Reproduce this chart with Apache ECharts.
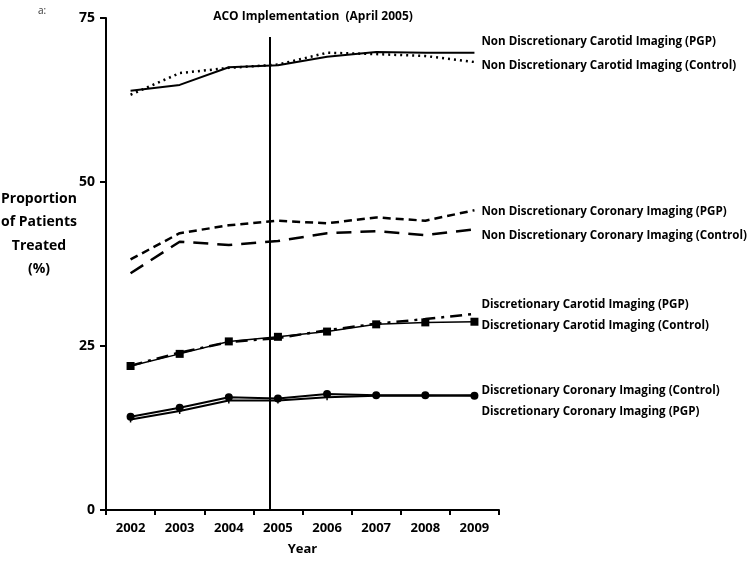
<!DOCTYPE html>
<html>
<head>
<meta charset="utf-8">
<script src="https://cdn.jsdelivr.net/npm/echarts@6/dist/echarts.min.js"></script>
<style>html,body{margin:0;padding:0;background:#fff}#c{width:750px;height:562px}</style>
</head>
<body>
<div id="c"></div>
<script>
const years = ['2002','2003','2004','2005','2006','2007','2008','2009'];
const ndCarotidPGP      = [63.9, 64.8, 67.5, 67.8, 69.1, 69.8, 69.7, 69.7];
const ndCarotidControl  = [63.3, 66.6, 67.4, 67.9, 69.7, 69.5, 69.2, 68.3];
const ndCoronaryPGP     = [38.2, 42.2, 43.4, 44.1, 43.7, 44.6, 44.1, 45.7];
const ndCoronaryControl = [36.1, 40.9, 40.4, 41.0, 42.2, 42.5, 41.9, 42.8];
const dCarotidPGP       = [22.0, 24.0, 25.6, 26.2, 27.4, 28.4, 29.1, 29.9];
const dCarotidControl   = [21.95, 23.8, 25.7, 26.4, 27.2, 28.3, 28.6, 28.7];
const dCoronaryControl  = [14.2, 15.6, 17.2, 17.0, 17.7, 17.5, 17.5, 17.4];
const dCoronaryPGP      = [13.8, 15.1, 16.7, 16.7, 17.2, 17.4, 17.4, 17.5];
const yTicks = [0, 25, 50, 75];
const acoIndex = 2.84;   // ACO implementation (April 2005) on category index scale
const acoTop = 72.1;

const FONT = '"Open Sans"';
function endLbl(dy) {
  return {show: true, formatter: '{a}', distance: 7, offset: [0, dy],
    fontFamily: FONT, fontWeight: 'bold', fontSize: 11.6, color: '#000'};
}
function line(name, data, lineStyle, extra, dy) {
  return Object.assign({
    name, type: 'line', data, xAxisIndex: 0, yAxisIndex: 0,
    symbol: 'none', lineStyle: Object.assign({color: '#000'}, lineStyle),
    itemStyle: {color: '#000'}, endLabel: endLbl(dy), z: 3
  }, extra || {});
}

const chart = echarts.init(document.getElementById('c'));
chart.setOption({
  animation: false,
  backgroundColor: '#fff',
  title: {
    text: 'ACO Implementation  (April 2005)',
    left: 308, top: 6, textAlign: 'center',
    textStyle: {fontFamily: FONT, fontWeight: 'bold', fontSize: 12, color: '#000'}
  },
  graphic: [
    {type: 'text', left: 38, top: 6, style: {text: 'a:', fontFamily: FONT, fontSize: 10, fill: '#333'}},
    {type: 'text', x: 39, y: 187, style: {text: 'Proportion\nof Patients\nTreated\n(%)', textAlign: 'center',
      fontFamily: FONT, fontWeight: 'bold', fontSize: 14, lineHeight: 23.5, fill: '#000'}}
  ],
  grid: {left: 106, right: 251, top: 18, bottom: 52},
  xAxis: [{
    type: 'category', data: years, boundaryGap: true,
    name: 'Year', nameLocation: 'middle', nameGap: 33,
    nameTextStyle: {fontFamily: FONT, fontWeight: 'bold', fontSize: 13, color: '#000'},
    axisLine: {lineStyle: {color: '#000', width: 2}},
    axisTick: {show: true, length: 5, lineStyle: {color: '#000', width: 2}},
    axisLabel: {fontFamily: FONT, fontWeight: 'bold', fontSize: 13, color: '#000', margin: 12},
    splitLine: {show: false}
  }, {
    type: 'value', min: -0.5, max: 7.5, show: false
  }],
  yAxis: {
    type: 'value', min: yTicks[0], max: yTicks[yTicks.length - 1], interval: 25,
    axisLine: {show: true, onZero: false, lineStyle: {color: '#000', width: 2}},
    axisTick: {show: true, length: 6, lineStyle: {color: '#000', width: 2}},
    axisLabel: {fontFamily: FONT, fontWeight: 'bold', fontSize: 14, color: '#000', margin: 11},
    splitLine: {show: false}
  },
  series: [
    line('Non Discretionary Carotid Imaging (PGP)', ndCarotidPGP, {width: 2}, null, -11),
    line('Non Discretionary Carotid Imaging (Control)', ndCarotidControl, {width: 2.5, type: [2, 4]}, null, 4),
    line('Non Discretionary Coronary Imaging (PGP)', ndCoronaryPGP, {width: 2.5, type: [8, 5]}, null, 1),
    line('Non Discretionary Coronary Imaging (Control)', ndCoronaryControl, {width: 2.5, type: [15, 9]}, null, 6),
    line('Discretionary Carotid Imaging (PGP)', dCarotidPGP, {width: 2.5, type: [12, 6, 3, 6]}, null, -9),
    line('Discretionary Carotid Imaging (Control)', dCarotidControl, {width: 1.5},
      {symbol: 'rect', symbolSize: 8, showSymbol: true}, 4),
    line('Discretionary Coronary Imaging (Control)', dCoronaryControl, {width: 2},
      {symbol: 'circle', symbolSize: 8, showSymbol: true}, -5),
    line('Discretionary Coronary Imaging (PGP)', dCoronaryPGP, {width: 2},
      {symbol: 'rect', symbolSize: [1.5, 6], showSymbol: true}, 16),
    {
      name: 'ACO', type: 'line', xAxisIndex: 1, yAxisIndex: 0, data: [], symbol: 'none',
      markLine: {
        silent: true, symbol: 'none', label: {show: false},
        lineStyle: {color: '#000', width: 2, type: 'solid'},
        data: [[{coord: [acoIndex, 0]}, {coord: [acoIndex, acoTop]}]]
      }
    }
  ]
});
</script>
</body>
</html>
